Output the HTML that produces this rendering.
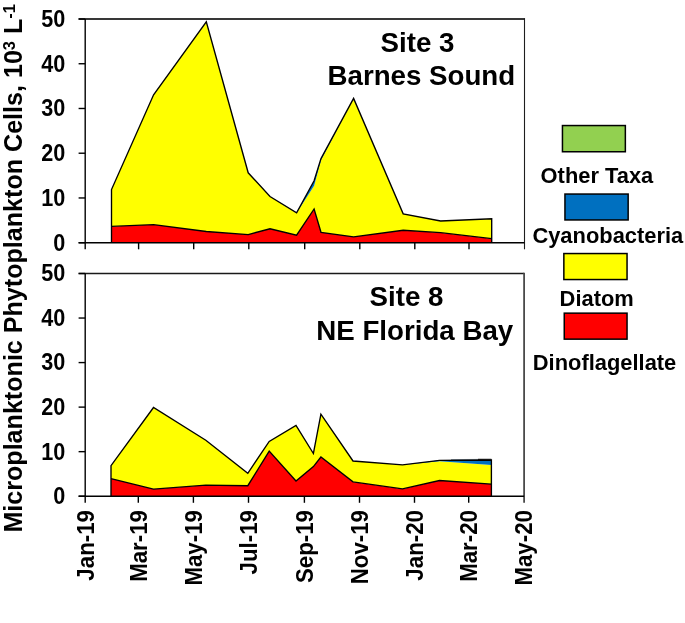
<!DOCTYPE html>
<html><head><meta charset="utf-8"><style>
html,body{margin:0;padding:0;background:#fff;}
svg{display:block;will-change:transform;}
text{font-family:"Liberation Sans",sans-serif;font-weight:bold;fill:#000;}
.tk{font-size:21.6px;}
.ax{font-size:22.3px;}
.lg{font-size:21.9px;}
.site{font-size:27.7px;}
.yt{font-size:25.1px;}
</style></head><body>
<svg width="685" height="623" viewBox="0 0 685 623">
<rect width="685" height="623" fill="#fff"/>
<polygon points="111.5,226.4 153.6,224.6 206.3,231.5 248.2,234.6 270.0,228.8 296.6,235.2 314.1,209.0 321.0,232.3 353.6,236.8 403.2,230.3 440.6,232.7 491.7,238.7 491.7,242.7 440.6,242.7 403.2,242.7 353.6,242.7 321.0,242.7 314.1,242.7 296.6,242.7 270.0,242.7 248.2,242.7 206.3,242.7 153.6,242.7 111.5,242.7" fill="#ff0000"/>
<polygon points="111.5,189.6 153.6,94.8 206.3,21.9 248.2,172.8 270.0,196.5 296.6,213.0 314.1,185.8 321.0,160.2 353.6,98.4 403.2,213.8 440.6,221.0 491.7,218.8 491.7,238.7 440.6,232.7 403.2,230.3 353.6,236.8 321.0,232.3 314.1,209.0 296.6,235.2 270.0,228.8 248.2,234.6 206.3,231.5 153.6,224.6 111.5,226.4" fill="#ffff00"/>
<polygon points="111.5,189.6 153.6,94.8 206.3,21.9 248.2,172.8 270.0,196.5 296.6,212.8 314.1,180.8 321.0,158.6 353.6,98.4 403.2,213.8 440.6,221.0 491.7,218.8 491.7,218.8 440.6,221.0 403.2,213.8 353.6,98.4 321.0,160.2 314.1,185.8 296.6,213.0 270.0,196.5 248.2,172.8 206.3,21.9 153.6,94.8 111.5,189.6" fill="#0070c0"/>
<polyline points="111.5,226.4 153.6,224.6 206.3,231.5 248.2,234.6 270.0,228.8 296.6,235.2 314.1,209.0 321.0,232.3 353.6,236.8 403.2,230.3 440.6,232.7 491.7,238.7" fill="none" stroke="#000" stroke-width="1.35"/>
<polyline points="111.5,242.7 111.5,189.6 153.6,94.8 206.3,21.9 248.2,172.8 270.0,196.5 296.6,212.8 314.1,180.8 321.0,158.6 353.6,98.4 403.2,213.8 440.6,221.0 491.7,218.8 491.7,242.7" fill="none" stroke="#000" stroke-width="1.35"/>
<path d="M78.6 19.0H524.5" fill="none" stroke="#383838" stroke-width="1.8"/>
<path d="M524.5 18.1V249.29999999999998" fill="none" stroke="#1e1e1e" stroke-width="1.1"/>
<path d="M85.2 19.0V249.29999999999998" fill="none" stroke="#000" stroke-width="1.4"/>
<path d="M78.6 242.70H85.2" stroke="#000" stroke-width="1.4"/>
<text transform="translate(65.3 250.60) scale(1 1.09)" text-anchor="end" class="tk">0</text>
<path d="M78.6 197.96H85.2" stroke="#000" stroke-width="1.4"/>
<text transform="translate(65.3 205.86) scale(1 1.09)" text-anchor="end" class="tk">10</text>
<path d="M78.6 153.22H85.2" stroke="#000" stroke-width="1.4"/>
<text transform="translate(65.3 161.12) scale(1 1.09)" text-anchor="end" class="tk">20</text>
<path d="M78.6 108.48H85.2" stroke="#000" stroke-width="1.4"/>
<text transform="translate(65.3 116.38) scale(1 1.09)" text-anchor="end" class="tk">30</text>
<path d="M78.6 63.74H85.2" stroke="#000" stroke-width="1.4"/>
<text transform="translate(65.3 71.64) scale(1 1.09)" text-anchor="end" class="tk">40</text>
<path d="M78.6 19.00H85.2" stroke="#000" stroke-width="1.4"/>
<text transform="translate(65.3 26.90) scale(1 1.09)" text-anchor="end" class="tk">50</text>
<path d="M78.6 242.7H524.5" fill="none" stroke="#000" stroke-width="1.4"/>
<path d="M138.60 242.7V249.29999999999998" stroke="#000" stroke-width="1.4"/>
<path d="M193.70 242.7V249.29999999999998" stroke="#000" stroke-width="1.4"/>
<path d="M248.80 242.7V249.29999999999998" stroke="#000" stroke-width="1.4"/>
<path d="M304.70 242.7V249.29999999999998" stroke="#000" stroke-width="1.4"/>
<path d="M359.80 242.7V249.29999999999998" stroke="#000" stroke-width="1.4"/>
<path d="M414.80 242.7V249.29999999999998" stroke="#000" stroke-width="1.4"/>
<path d="M469.00 242.7V249.29999999999998" stroke="#000" stroke-width="1.4"/>
<text x="380.6" y="51.5" class="site">Site 3</text>
<text x="327.5" y="84.8" class="site">Barnes Sound</text>
<path d="M451 459.6L478 459.4" stroke="#8a9aa8" stroke-width="1"/><path d="M478 459.4L491.4 459.3" stroke="#222" stroke-width="1.1"/>
<polygon points="111.0,478.6 153.5,489.1 205.8,485.2 247.8,485.7 269.2,451.1 296.0,481.0 313.4,466.6 320.9,457.0 353.0,481.9 402.5,488.9 439.5,480.5 491.4,484.1 491.4,496.2 439.5,496.2 402.5,496.2 353.0,496.2 320.9,496.2 313.4,496.2 296.0,496.2 269.2,496.2 247.8,496.2 205.8,496.2 153.5,496.2 111.0,496.2" fill="#ff0000"/>
<polygon points="111.0,465.7 153.5,407.5 205.8,440.2 247.8,473.3 269.2,441.4 296.0,425.3 313.4,453.5 320.9,414.1 353.0,461.0 402.5,464.9 439.5,461.3 491.4,465.0 491.4,484.1 439.5,480.5 402.5,488.9 353.0,481.9 320.9,457.0 313.4,466.6 296.0,481.0 269.2,451.1 247.8,485.7 205.8,485.2 153.5,489.1 111.0,478.6" fill="#ffff00"/>
<polygon points="111.0,465.7 153.5,407.5 205.8,440.2 247.8,473.3 269.2,441.4 296.0,425.3 313.4,453.5 320.9,414.1 353.0,461.0 402.5,464.9 439.5,460.3 491.4,460.0 491.4,465.0 439.5,461.3 402.5,464.9 353.0,461.0 320.9,414.1 313.4,453.5 296.0,425.3 269.2,441.4 247.8,473.3 205.8,440.2 153.5,407.5 111.0,465.7" fill="#0070c0"/>
<polyline points="111.0,478.6 153.5,489.1 205.8,485.2 247.8,485.7 269.2,451.1 296.0,481.0 313.4,466.6 320.9,457.0 353.0,481.9 402.5,488.9 439.5,480.5 491.4,484.1" fill="none" stroke="#000" stroke-width="1.35"/>
<polyline points="111.0,496.2 111.0,465.7 153.5,407.5 205.8,440.2 247.8,473.3 269.2,441.4 296.0,425.3 313.4,453.5 320.9,414.1 353.0,461.0 402.5,464.9 439.5,460.3 491.4,460.0 491.4,496.2" fill="none" stroke="#000" stroke-width="1.35"/>
<path d="M78.6 273.5H524.1" fill="none" stroke="#1a1a1a" stroke-width="1.3"/>
<path d="M524.1 272.85V502.8" fill="none" stroke="#4a4a4a" stroke-width="1.8"/>
<path d="M85.2 273.5V502.8" fill="none" stroke="#000" stroke-width="1.4"/>
<path d="M78.6 496.20H85.2" stroke="#000" stroke-width="1.4"/>
<text transform="translate(65.3 504.10) scale(1 1.09)" text-anchor="end" class="tk">0</text>
<path d="M78.6 451.66H85.2" stroke="#000" stroke-width="1.4"/>
<text transform="translate(65.3 459.56) scale(1 1.09)" text-anchor="end" class="tk">10</text>
<path d="M78.6 407.12H85.2" stroke="#000" stroke-width="1.4"/>
<text transform="translate(65.3 415.02) scale(1 1.09)" text-anchor="end" class="tk">20</text>
<path d="M78.6 362.58H85.2" stroke="#000" stroke-width="1.4"/>
<text transform="translate(65.3 370.48) scale(1 1.09)" text-anchor="end" class="tk">30</text>
<path d="M78.6 318.04H85.2" stroke="#000" stroke-width="1.4"/>
<text transform="translate(65.3 325.94) scale(1 1.09)" text-anchor="end" class="tk">40</text>
<path d="M78.6 273.50H85.2" stroke="#000" stroke-width="1.4"/>
<text transform="translate(65.3 281.40) scale(1 1.09)" text-anchor="end" class="tk">50</text>
<path d="M78.6 496.2H524.1" fill="none" stroke="#000" stroke-width="1.4"/>
<path d="M138.30 496.2V502.8" stroke="#000" stroke-width="1.4"/>
<path d="M193.40 496.2V502.8" stroke="#000" stroke-width="1.4"/>
<path d="M248.50 496.2V502.8" stroke="#000" stroke-width="1.4"/>
<path d="M304.40 496.2V502.8" stroke="#000" stroke-width="1.4"/>
<path d="M359.50 496.2V502.8" stroke="#000" stroke-width="1.4"/>
<path d="M414.50 496.2V502.8" stroke="#000" stroke-width="1.4"/>
<path d="M468.70 496.2V502.8" stroke="#000" stroke-width="1.4"/>
<text x="369.5" y="305.9" class="site">Site 8</text>
<text x="316.3" y="339.6" class="site">NE Florida Bay</text>
<text transform="translate(93.80 510.0) rotate(-90) scale(1 1.06)" text-anchor="end" class="ax">Jan-19</text>
<text transform="translate(146.60 510.0) rotate(-90) scale(1 1.06)" text-anchor="end" class="ax">Mar-19</text>
<text transform="translate(201.70 510.0) rotate(-90) scale(1 1.06)" text-anchor="end" class="ax">May-19</text>
<text transform="translate(256.80 510.0) rotate(-90) scale(1 1.06)" text-anchor="end" class="ax">Jul-19</text>
<text transform="translate(312.70 510.0) rotate(-90) scale(1 1.06)" text-anchor="end" class="ax">Sep-19</text>
<text transform="translate(367.80 510.0) rotate(-90) scale(1 1.06)" text-anchor="end" class="ax">Nov-19</text>
<text transform="translate(422.80 510.0) rotate(-90) scale(1 1.06)" text-anchor="end" class="ax">Jan-20</text>
<text transform="translate(477.00 510.0) rotate(-90) scale(1 1.06)" text-anchor="end" class="ax">Mar-20</text>
<text transform="translate(532.00 510.0) rotate(-90) scale(1 1.06)" text-anchor="end" class="ax">May-20</text>
<rect x="562.45" y="125.55" width="62.90" height="26.20" fill="#92d050" stroke="#000" stroke-width="1.5"/>
<text transform="translate(540.6 183.3) scale(1 1.035)" class="lg">Other Taxa</text>
<rect x="564.95" y="194.05" width="63.20" height="25.90" fill="#0070c0" stroke="#000" stroke-width="1.5"/>
<text transform="translate(532.4 243.3) scale(1 1.035)" class="lg">Cyanobacteria</text>
<rect x="563.85" y="253.55" width="63.20" height="26.00" fill="#ffff00" stroke="#000" stroke-width="1.5"/>
<text transform="translate(559.6 306.3) scale(1 1.035)" class="lg">Diatom</text>
<rect x="564.25" y="313.15" width="62.80" height="26.00" fill="#ff0000" stroke="#000" stroke-width="1.5"/>
<text transform="translate(532.8 369.8) scale(1 1.035)" class="lg">Dinoflagellate</text>
<text transform="translate(22.3 532.6) rotate(-90)" class="yt">Microplanktonic Phytoplankton Cells, 10<tspan dy="-7.5" font-size="16.5">3</tspan><tspan dy="7.5"> L</tspan><tspan dy="-7.5" font-size="16.5">-1</tspan></text>
</svg>
</body></html>
